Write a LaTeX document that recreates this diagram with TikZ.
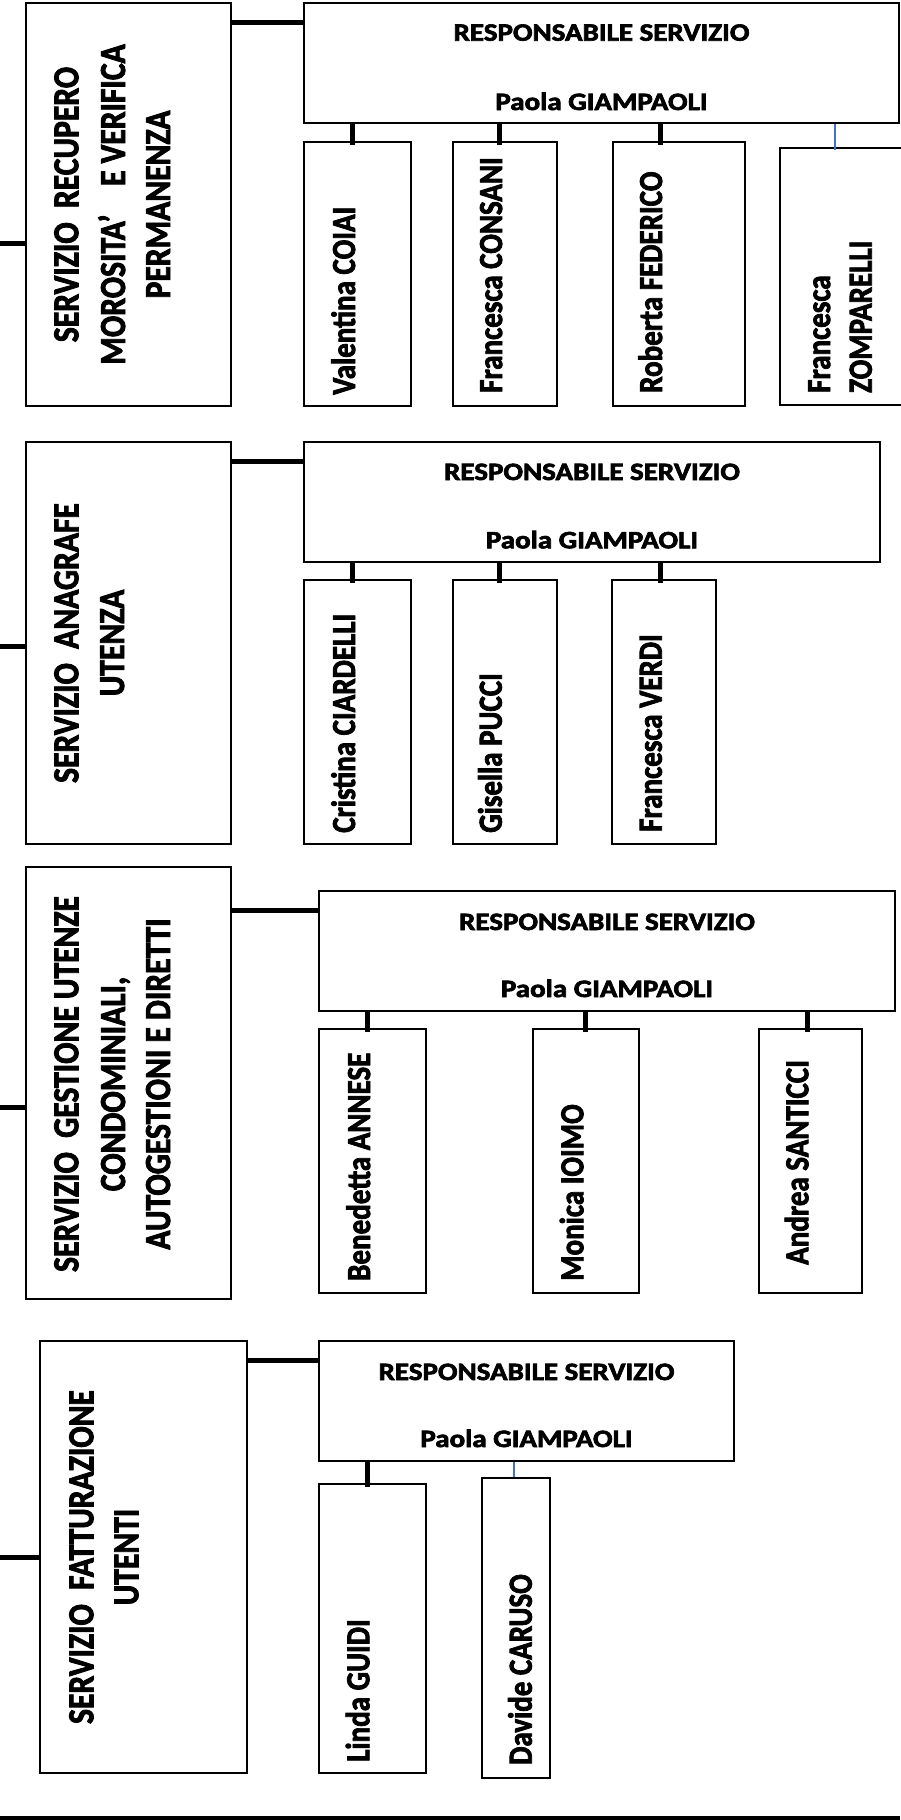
\documentclass[tikz,border=0pt]{standalone}
\usepackage{fontspec}
\setmainfont{Carlito}[BoldFeatures={FakeBold=2.5}]
\usepackage{graphicx}
\usetikzlibrary{fit}
\definecolor{blueline}{HTML}{4472C4}
\newcommand{\myhs}[1]{\scalebox{1.16}[1]{#1}}
\newcommand{\myvs}[1]{\scalebox{1}[1.16]{#1}}
\tikzset{
  box/.style={draw=black, line width=1.8pt, inner sep=0pt, rectangle},
  conn/.style={draw=black, line width=5pt, line cap=butt},
  thinconn/.style={draw=blueline, line width=1.2pt},
  vtext/.style={rotate=90, anchor=base west, inner sep=0pt, font=\fontsize{29}{35}\selectfont\bfseries},
  ttext/.style={rotate=90, anchor=base, inner sep=0pt, font=\fontsize{31.6}{38}\selectfont\bfseries},
  htext/.style={anchor=base, inner sep=0pt, font=\fontsize{25}{30}\selectfont\bfseries},
}
\begin{document}
\begin{tikzpicture}[x=1pt,y=-1pt]
\useasboundingbox (0,0) rectangle (900,1820);

% ---------------- Section 1 ----------------
\node[box, fit={(26,3) (231,406)}] (S1) {};
\node[box, fit={(304,3) (899,123)}] (R1) {};
\node[box, fit={(304,142) (411,406)}] (V1) {};
\node[box, fit={(453,142) (557,406)}] (V2) {};
\node[box, fit={(613,142) (745,406)}] (V3) {};
\node[box, fit={(780,148) (903,405)}] (V4) {};

\node[ttext] (S1a) at (78.3,204.5) {\myvs{SERVIZIO\ \ RECUPERO}};
\node[ttext] (S1b) at (125,204.5) {\myvs{MOROSITA’\ \ \ \ E VERIFICA}};
\node[ttext] (S1c) at (170,204.5) {\myvs{PERMANENZA}};
\node[htext] (R1a) at (601.5,40.7) {\myhs{RESPONSABILE SERVIZIO}};
\node[htext] (R1b) at (601.5,110) {\myhs{Paola GIAMPAOLI}};
\node[vtext] (V1t) at (355,395) {\myvs{Valentina COIAI}};
\node[vtext] (V2t) at (502,393) {\myvs{Francesca CONSANI}};
\node[vtext] (V3t) at (662,393) {\myvs{Roberta FEDERICO}};
\node[vtext] (V4a) at (830,393) {\myvs{Francesca}};
\node[vtext] (V4b) at (871.7,393) {\myvs{ZOMPARELLI}};

\coordinate (st1) at (0,243);
\coordinate (c1) at (0,22);
\coordinate (k11) at (352,0);
\coordinate (k12) at (499,0);
\coordinate (k13) at (660,0);
\coordinate (k14) at (835,0);
\draw[conn] (st1) -- (S1.west |- st1);
\draw[conn] (S1.east |- c1) -- (R1.west |- c1);
\draw[conn, shorten >=-4pt] (R1.south -| k11) -- (V1.north -| k11);
\draw[conn, shorten >=-4pt] (R1.south -| k12) -- (V2.north -| k12);
\draw[conn, shorten >=-4pt] (R1.south -| k13) -- (V3.north -| k13);
\draw[thinconn, shorten >=-3pt] (R1.south -| k14) -- (V4.north -| k14);

% ---------------- Section 2 ----------------
\node[box, fit={(26,442) (231,844)}] (S2) {};
\node[box, fit={(304,442) (880,562)}] (R2) {};
\node[box, fit={(304,580) (411,844)}] (W1) {};
\node[box, fit={(453,580) (557,844)}] (W2) {};
\node[box, fit={(612,580) (716,844)}] (W3) {};

\node[ttext] (S2a) at (78.3,643) {\myvs{SERVIZIO\ \ ANAGRAFE}};
\node[ttext] (S2b) at (124,643) {\myvs{UTENZA}};
\node[htext] (R2a) at (592,480) {\myhs{RESPONSABILE SERVIZIO}};
\node[htext] (R2b) at (592,548.3) {\myhs{Paola GIAMPAOLI}};
\node[vtext] (W1t) at (355,833) {\myvs{Cristina CIARDELLI}};
\node[vtext] (W2t) at (501.7,833) {\myvs{Gisella PUCCI}};
\node[vtext] (W3t) at (661.7,832) {\myvs{Francesca VERDI}};

\coordinate (st2) at (0,646);
\coordinate (c2) at (0,461);
\coordinate (k21) at (352,0);
\coordinate (k22) at (499,0);
\coordinate (k23) at (660,0);
\draw[conn] (st2) -- (S2.west |- st2);
\draw[conn] (S2.east |- c2) -- (R2.west |- c2);
\draw[conn, shorten >=-4pt] (R2.south -| k21) -- (W1.north -| k21);
\draw[conn, shorten >=-4pt] (R2.south -| k22) -- (W2.north -| k22);
\draw[conn, shorten >=-4pt] (R2.south -| k23) -- (W3.north -| k23);

% ---------------- Section 3 ----------------
\node[box, fit={(26,867) (231,1299)}] (S3) {};
\node[box, fit={(319,891) (895,1011)}] (R3) {};
\node[box, fit={(319,1029) (426,1293)}] (X1) {};
\node[box, fit={(533,1029) (639,1293)}] (X2) {};
\node[box, fit={(759,1029) (862,1293)}] (X3) {};

\node[ttext] (S3a) at (78.3,1084) {\myvs{SERVIZIO\ \ GESTIONE UTENZE}};
\node[ttext] (S3b) at (125,1084) {\myvs{CONDOMINIALI,}};
\node[ttext] (S3c) at (170,1084) {\myvs{AUTOGESTIONI E DIRETTI}};
\node[htext] (R3a) at (607,930) {\myhs{RESPONSABILE SERVIZIO}};
\node[htext] (R3b) at (607,997) {\myhs{Paola GIAMPAOLI}};
\node[vtext] (X1t) at (370,1281) {\myvs{Benedetta ANNESE}};
\node[vtext] (X2t) at (583.3,1281) {\myvs{Monica IOIMO}};
\node[vtext] (X3t) at (808.3,1265) {\myvs{Andrea SANTICCI}};

\coordinate (st3) at (0,1107);
\coordinate (c3) at (0,910);
\coordinate (k31) at (367,0);
\coordinate (k32) at (585,0);
\coordinate (k33) at (807,0);
\draw[conn] (st3) -- (S3.west |- st3);
\draw[conn] (S3.east |- c3) -- (R3.west |- c3);
\draw[conn, shorten >=-4pt] (R3.south -| k31) -- (X1.north -| k31);
\draw[conn, shorten >=-4pt] (R3.south -| k32) -- (X2.north -| k32);
\draw[conn, shorten >=-4pt] (R3.south -| k33) -- (X3.north -| k33);

% ---------------- Section 4 ----------------
\node[box, fit={(40,1341) (247,1773)}] (S4) {};
\node[box, fit={(319,1341) (734,1461)}] (R4) {};
\node[box, fit={(319,1484) (426,1773)}] (Y1) {};
\node[box, fit={(482,1478) (550,1778)}] (Y2) {};

\node[ttext] (S4a) at (93.3,1557) {\myvs{SERVIZIO\ \ FATTURAZIONE}};
\node[ttext] (S4b) at (138.3,1557) {\myvs{UTENTI}};
\node[htext] (R4a) at (526.5,1380) {\myhs{RESPONSABILE SERVIZIO}};
\node[htext] (R4b) at (526.5,1447) {\myhs{Paola GIAMPAOLI}};
\node[vtext] (Y1t) at (369.3,1762) {\myvs{Linda GUIDI}};
\node[vtext] (Y2t) at (531.7,1765) {\myvs{Davide CARUSO}};

\coordinate (st4) at (0,1557);
\coordinate (c4) at (0,1360);
\coordinate (k41) at (367,0);
\coordinate (k42) at (514,0);
\draw[conn] (st4) -- (S4.west |- st4);
\draw[conn] (S4.east |- c4) -- (R4.west |- c4);
\draw[conn, shorten >=-4pt] (R4.south -| k41) -- (Y1.north -| k41);
\draw[thinconn] (R4.south -| k42) -- (Y2.north -| k42);

% bottom rule
\coordinate (bl) at (0,1818);
\coordinate (br) at (900,1818);
\draw[conn, line width=5pt] (bl) -- (br);
\end{tikzpicture}
\end{document}
